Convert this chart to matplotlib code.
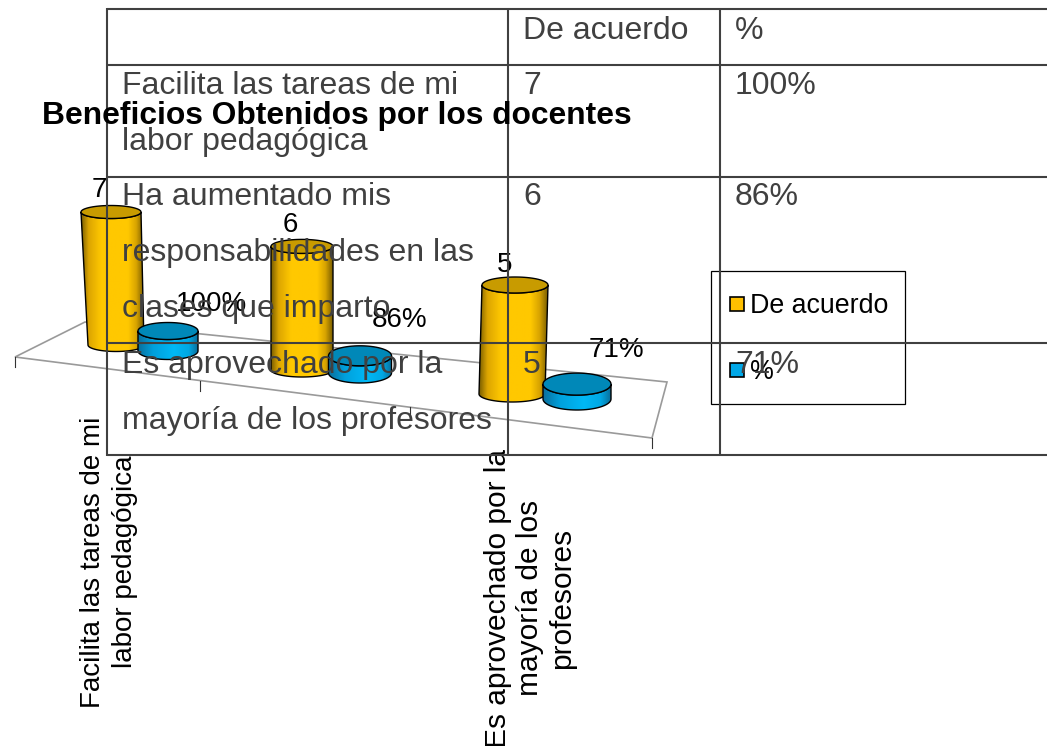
# plot.py
# Pseudo-3D cylinder chart sitting underneath a table

import numpy as np
import matplotlib
matplotlib.use("Agg")
import matplotlib.pyplot as plt
from matplotlib.colors import LinearSegmentedColormap
from matplotlib.patches import Polygon, Rectangle
from matplotlib.path import Path

plt.rcParams['font.family'] = ['Liberation Sans', 'DejaVu Sans']

# chart data
categories = ['Facilita las tareas de mi labor pedagógica',
              'Ha aumentado mis responsabilidades en las clases que imparto',
              'Es aprovechado por la mayoría de los profesores']
axis_labels = ['Facilita las tareas de mi\nlabor pedagógica', '',
               'Es aprovechado por la\nmayoría de los\nprofesores']
de_acuerdo = [7, 6, 5]
porcentaje = [1.00, 0.86, 0.71]
series_names = ['De acuerdo', '%']
chart_title = 'Beneficios Obtenidos por los docentes'

# table contents
table_header = ['', 'De acuerdo', '%']
table_col1 = [['Facilita las tareas de mi', 'labor pedagógica'],
              ['Ha aumentado mis', 'responsabilidades en las', 'clases que imparto'],
              ['Es aprovechado por la', 'mayoría de los profesores']]
table_col2 = ['7', '6', '5']
table_col3 = ['100%', '86%', '71%']

TEXT_GREY = '#404040'
fig = plt.figure(figsize=(10.47, 7.46), dpi=100)
ax = fig.add_axes([0, 0, 1, 1])
ax.set_axis_off()

gold_cmap = LinearSegmentedColormap.from_list(
    'gold', [(0, '#7a5e00'), (0.12, '#dca500'), (0.32, '#ffc800'), (0.75, '#ffc800'), (0.88, '#d8a400'), (1, '#7a5e00')])
blue_cmap = LinearSegmentedColormap.from_list(
    'blue', [(0, '#0a6f9c'), (0.25, '#00a0dc'), (0.6, '#00b8f5'), (0.85, '#00a8e4'), (1, '#0a6f9c')])


def cylinder(xb, yb, xt, yt, rb, rt, ry, cmap, top_color, z):
    t = np.linspace(0, np.pi, 40)
    # body outline: bottom arc then top arc
    bx = xb - rb * np.cos(t)
    by = yb + ry * np.sin(t)
    tx = xt + rt * np.cos(t)
    ty = yt + ry * np.sin(t)
    verts = np.vstack([np.column_stack([bx, by]), np.column_stack([tx, ty]), [bx[0], by[0]]])
    codes = [Path.MOVETO] + [Path.LINETO] * (len(verts) - 2) + [Path.CLOSEPOLY]
    body = Polygon(verts[:-1], closed=True, facecolor='none', edgecolor='black', lw=1.0, zorder=z + 0.2)
    ax.add_patch(body)
    left = min(xb - rb, xt - rt)
    right = max(xb + rb, xt + rt)
    grad = np.linspace(0, 1, 128).reshape(1, -1)
    im = ax.imshow(grad, cmap=cmap, aspect='auto', extent=[left, right, yb + ry + 1, yt - 1], zorder=z)
    im.set_clip_path(Path(verts, codes), ax.transData)
    t2 = np.linspace(0, 2 * np.pi, 80)
    top = np.column_stack([xt + rt * np.cos(t2), yt + ry * np.sin(t2)])
    ax.add_patch(Polygon(top, closed=True, facecolor=top_color, edgecolor='black', lw=1.0, zorder=z + 0.3))


# floor of the 3D chart
floor = [(15, 357), (85, 322), (667, 382), (652, 438)]
ax.add_patch(Polygon(floor, closed=True, facecolor='white', edgecolor='#9a9a9a', lw=1.2, zorder=1))
for x0, y0 in [(15, 357), (200, 381), (410, 407), (652, 438)]:
    ax.plot([x0, x0], [y0, y0 + 10], color='#333333', lw=0.8, zorder=1.1)

# group geometry, the heights come from the values
gold_base = [(116, 345, 28), (302, 370, 31), (512, 394, 33)]
gold_top = [(111, 30, 6.5), (302, 31, 7), (515, 33, 8)]
gold_scale = [19.0, 20.6, 21.8]
blue_base = [(168, 351), (360, 373), (577, 399)]
blue_rx = [30, 31.5, 34]
blue_ry = [8.5, 10, 11]
blue_scale = [20, 20, 21]
value_label_pos = [(99, 197), (290, 232), (505, 272)]
pct_label_pos = [(212, 311), (400, 327), (616, 357)]

for i in range(len(categories)):
    xb, yb, rb = gold_base[i]
    xt, rt, ry = gold_top[i]
    cylinder(xb, yb, xt, yb - de_acuerdo[i] * gold_scale[i], rb, rt, ry, gold_cmap, '#c89b00', 2 + i)
    bx, by = blue_base[i]
    cylinder(bx, by, bx, by - porcentaje[i] * blue_scale[i], blue_rx[i], blue_rx[i], blue_ry[i],
             blue_cmap, '#0088b8', 2.5 + i)
    ax.text(value_label_pos[i][0], value_label_pos[i][1], str(de_acuerdo[i]), fontsize=20,
            ha='center', va='baseline', color='black', zorder=7)
    ax.text(pct_label_pos[i][0], pct_label_pos[i][1], f'{round(porcentaje[i] * 100)}%', fontsize=20,
            ha='center', va='baseline', color='black', zorder=7)

# rotated category labels, the second one is dropped in the original
label_pos = [(109, 562), (0, 0), (530, 598)]
label_size = [20, 0, 21.5]
label_spacing = [1.3, 0, 1.2]
for lab, (lx, ly), fs, sp in zip(axis_labels, label_pos, label_size, label_spacing):
    if lab:
        ax.text(lx, ly, lab, rotation=90, fontsize=fs, ha='center', va='center', ma='center',
                linespacing=sp, color='black', zorder=7)

# chart title
ax.text(337, 124, chart_title, fontsize=22.9, fontweight='bold', ha='center', va='baseline',
        color='black', zorder=9)

# legend
ax.add_patch(Rectangle((711, 271), 194, 133, facecolor='none', edgecolor='black', lw=0.9, zorder=7))
legend_colors = ['#ffc000', '#00a8e8']
legend_y = [297, 363]
for name, col, ly in zip(series_names, legend_colors, legend_y):
    ax.add_patch(Rectangle((730, ly), 14, 14, facecolor=col, edgecolor='black', lw=1.2, zorder=7))
    ax.text(750, ly + 16, name, fontsize=19.3, ha='left', va='baseline', color='black', zorder=7)

# table grid and text on top of the chart
for y in [9, 65, 177, 343, 455]:
    ax.plot([107, 1047], [y, y], color=TEXT_GREY, lw=1.5, zorder=8, solid_capstyle='butt')
for x in [107, 508, 720]:
    ax.plot([x, x], [8, 456], color=TEXT_GREY, lw=1.5, zorder=8, solid_capstyle='butt')

TSIZE = 23
ax.text(523, 39, table_header[1], fontsize=TSIZE, color=TEXT_GREY, va='baseline', zorder=8)
ax.text(735, 39, table_header[2], fontsize=TSIZE, color=TEXT_GREY, va='baseline', zorder=8)
row_first_baseline = [94, 205, 373]
LINE_STEP = 56
for r in range(3):
    for j, line in enumerate(table_col1[r]):
        ax.text(122, row_first_baseline[r] + j * LINE_STEP, line, fontsize=TSIZE, color=TEXT_GREY,
                va='baseline', zorder=8)
    ax.text(523, row_first_baseline[r], table_col2[r], fontsize=TSIZE, color=TEXT_GREY, va='baseline', zorder=8)
    ax.text(735, row_first_baseline[r], table_col3[r], fontsize=TSIZE, color=TEXT_GREY, va='baseline', zorder=8)

ax.set_xlim(0, 1047)
ax.set_ylim(746, 0)
fig.savefig('out.png', dpi=100)
